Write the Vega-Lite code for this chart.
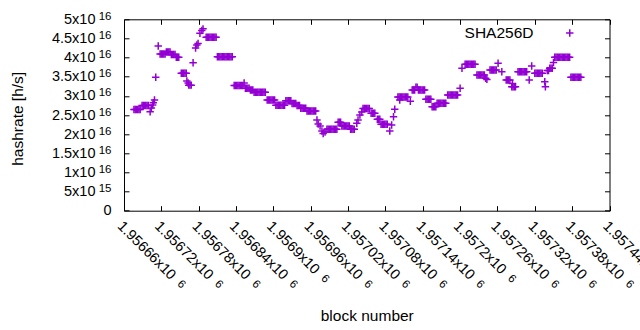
{
"$schema": "https://vega.github.io/schema/vega-lite/v6.json",
"width": 485.5, "height": 191.4,
"autosize": {"type": "none"},
"padding": {"left": 124, "top": 19.3, "right": 30.5, "bottom": 119.3},
"background": "white",
"config": {
 "view": {"stroke": "black", "strokeWidth": 1},
 "font": "Liberation Sans",
 "axis": {"grid": false, "domain": false, "tickColor": "black", "tickSize": -5, "tickWidth": 1, "labelColor": "black", "titleColor": "black", "labelFont": "Liberation Sans", "titleFont": "Liberation Sans", "labelFontSize": 14.5, "titleFontSize": 15.5, "titleFontWeight": "normal", "labelOverlap": false, "labelFlush": false, "labelBound": false}
},
"data": {"values": [
{"block":1956676,"hashrate":2.644e16},{"block":1956678,"hashrate":2.644e16},{"block":1956680,"hashrate":2.644e16},{"block":1956682,"hashrate":2.644e16},{"block":1956684,"hashrate":2.644e16},{"block":1956686,"hashrate":2.644e16},
{"block":1956689,"hashrate":2.748e16},{"block":1956691,"hashrate":2.748e16},{"block":1956693,"hashrate":2.748e16},{"block":1956695,"hashrate":2.748e16},{"block":1956697,"hashrate":2.748e16},{"block":1956699,"hashrate":2.748e16},
{"block":1956702,"hashrate":2.586e16},{"block":1956704,"hashrate":2.68e16},{"block":1956706,"hashrate":2.76e16},{"block":1956707,"hashrate":2.82e16},{"block":1956709,"hashrate":2.89e16},
{"block":1956711,"hashrate":3.485e16},{"block":1956715,"hashrate":4.303e16},
{"block":1956718,"hashrate":4.094e16},{"block":1956720,"hashrate":4.094e16},{"block":1956722,"hashrate":4.094e16},{"block":1956724,"hashrate":4.094e16},{"block":1956726,"hashrate":4.094e16},
{"block":1956728,"hashrate":4.146e16},{"block":1956730,"hashrate":4.146e16},{"block":1956732,"hashrate":4.146e16},{"block":1956734,"hashrate":4.146e16},
{"block":1956736,"hashrate":4.08e16},{"block":1956738,"hashrate":4.08e16},{"block":1956740,"hashrate":4.08e16},{"block":1956742,"hashrate":4.08e16},
{"block":1956744,"hashrate":4.007e16},{"block":1956746,"hashrate":4.007e16},{"block":1956748,"hashrate":4.007e16},
{"block":1956752,"hashrate":3.589e16},{"block":1956754,"hashrate":3.589e16},{"block":1956756,"hashrate":3.589e16},{"block":1956758,"hashrate":3.589e16},{"block":1956760,"hashrate":3.589e16},
{"block":1956761,"hashrate":3.388e16},{"block":1956763,"hashrate":3.336e16},
{"block":1956764,"hashrate":3.28e16},{"block":1956766,"hashrate":3.28e16},{"block":1956768,"hashrate":3.28e16},
{"block":1956771,"hashrate":3.866e16},{"block":1956775,"hashrate":4.25e16},{"block":1956777,"hashrate":4.329e16},{"block":1956779,"hashrate":4.368e16},
{"block":1956782,"hashrate":4.634e16},{"block":1956785,"hashrate":4.707e16},{"block":1956787,"hashrate":4.75e16},
{"block":1956792,"hashrate":4.53e16},{"block":1956794,"hashrate":4.53e16},{"block":1956796,"hashrate":4.53e16},{"block":1956798,"hashrate":4.53e16},{"block":1956800,"hashrate":4.53e16},{"block":1956802,"hashrate":4.53e16},{"block":1956804,"hashrate":4.53e16},{"block":1956806,"hashrate":4.53e16},{"block":1956808,"hashrate":4.53e16},
{"block":1956810,"hashrate":4.023e16},{"block":1956812,"hashrate":4.023e16},{"block":1956814,"hashrate":4.023e16},{"block":1956816,"hashrate":4.023e16},{"block":1956818,"hashrate":4.023e16},{"block":1956820,"hashrate":4.023e16},{"block":1956822,"hashrate":4.023e16},{"block":1956824,"hashrate":4.023e16},{"block":1956826,"hashrate":4.023e16},{"block":1956828,"hashrate":4.023e16},{"block":1956830,"hashrate":4.023e16},{"block":1956832,"hashrate":4.023e16},{"block":1956834,"hashrate":4.023e16},
{"block":1956837,"hashrate":3.27e16},{"block":1956839,"hashrate":3.27e16},{"block":1956841,"hashrate":3.27e16},{"block":1956843,"hashrate":3.27e16},{"block":1956845,"hashrate":3.27e16},{"block":1956847,"hashrate":3.27e16},{"block":1956849,"hashrate":3.27e16},{"block":1956851,"hashrate":3.27e16},
{"block":1956853,"hashrate":3.336e16},
{"block":1956855,"hashrate":3.198e16},{"block":1956857,"hashrate":3.198e16},{"block":1956859,"hashrate":3.198e16},{"block":1956861,"hashrate":3.198e16},
{"block":1956863,"hashrate":3.153e16},{"block":1956865,"hashrate":3.153e16},{"block":1956867,"hashrate":3.153e16},
{"block":1956869,"hashrate":3.093e16},{"block":1956871,"hashrate":3.093e16},{"block":1956873,"hashrate":3.093e16},{"block":1956875,"hashrate":3.093e16},{"block":1956877,"hashrate":3.093e16},{"block":1956879,"hashrate":3.093e16},{"block":1956881,"hashrate":3.093e16},{"block":1956883,"hashrate":3.093e16},{"block":1956885,"hashrate":3.093e16},{"block":1956887,"hashrate":3.093e16},
{"block":1956890,"hashrate":2.892e16},{"block":1956892,"hashrate":2.892e16},{"block":1956894,"hashrate":2.892e16},{"block":1956896,"hashrate":2.892e16},{"block":1956898,"hashrate":2.892e16},{"block":1956900,"hashrate":2.892e16},{"block":1956902,"hashrate":2.892e16},
{"block":1956904,"hashrate":2.753e16},{"block":1956906,"hashrate":2.753e16},{"block":1956908,"hashrate":2.753e16},{"block":1956910,"hashrate":2.753e16},{"block":1956912,"hashrate":2.753e16},{"block":1956914,"hashrate":2.753e16},{"block":1956916,"hashrate":2.753e16},{"block":1956918,"hashrate":2.753e16},
{"block":1956920,"hashrate":2.874e16},{"block":1956922,"hashrate":2.874e16},{"block":1956924,"hashrate":2.874e16},{"block":1956926,"hashrate":2.874e16},{"block":1956928,"hashrate":2.874e16},
{"block":1956930,"hashrate":2.8e16},{"block":1956932,"hashrate":2.8e16},{"block":1956934,"hashrate":2.8e16},{"block":1956936,"hashrate":2.8e16},
{"block":1956938,"hashrate":2.748e16},{"block":1956940,"hashrate":2.748e16},{"block":1956942,"hashrate":2.748e16},
{"block":1956944,"hashrate":2.675e16},{"block":1956946,"hashrate":2.675e16},{"block":1956948,"hashrate":2.675e16},{"block":1956950,"hashrate":2.675e16},{"block":1956952,"hashrate":2.675e16},
{"block":1956954,"hashrate":2.604e16},{"block":1956956,"hashrate":2.604e16},{"block":1956958,"hashrate":2.604e16},{"block":1956960,"hashrate":2.604e16},{"block":1956962,"hashrate":2.604e16},{"block":1956964,"hashrate":2.604e16},{"block":1956966,"hashrate":2.604e16},{"block":1956968,"hashrate":2.604e16},
{"block":1956970,"hashrate":2.369e16},{"block":1956972,"hashrate":2.262e16},{"block":1956975,"hashrate":2.21e16},{"block":1956978,"hashrate":2.082e16},{"block":1956980,"hashrate":2.017e16},{"block":1956983,"hashrate":2.056e16},
{"block":1956986,"hashrate":2.126e16},{"block":1956988,"hashrate":2.126e16},{"block":1956990,"hashrate":2.126e16},{"block":1956992,"hashrate":2.126e16},{"block":1956994,"hashrate":2.126e16},{"block":1956996,"hashrate":2.126e16},{"block":1956998,"hashrate":2.126e16},{"block":1957000,"hashrate":2.126e16},{"block":1957002,"hashrate":2.126e16},
{"block":1957004,"hashrate":2.309e16},{"block":1957006,"hashrate":2.309e16},{"block":1957008,"hashrate":2.309e16},
{"block":1957010,"hashrate":2.213e16},{"block":1957012,"hashrate":2.213e16},{"block":1957014,"hashrate":2.213e16},{"block":1957016,"hashrate":2.213e16},{"block":1957018,"hashrate":2.213e16},{"block":1957020,"hashrate":2.213e16},{"block":1957022,"hashrate":2.213e16},
{"block":1957024,"hashrate":2.126e16},{"block":1957026,"hashrate":2.126e16},{"block":1957028,"hashrate":2.126e16},{"block":1957030,"hashrate":2.126e16},
{"block":1957034,"hashrate":2.285e16},{"block":1957036,"hashrate":2.369e16},{"block":1957039,"hashrate":2.5e16},{"block":1957042,"hashrate":2.578e16},
{"block":1957044,"hashrate":2.67e16},{"block":1957046,"hashrate":2.67e16},{"block":1957048,"hashrate":2.67e16},{"block":1957050,"hashrate":2.67e16},{"block":1957052,"hashrate":2.67e16},{"block":1957054,"hashrate":2.67e16},
{"block":1957057,"hashrate":2.544e16},{"block":1957059,"hashrate":2.544e16},{"block":1957061,"hashrate":2.544e16},{"block":1957063,"hashrate":2.544e16},
{"block":1957067,"hashrate":2.388e16},{"block":1957069,"hashrate":2.388e16},{"block":1957071,"hashrate":2.388e16},
{"block":1957073,"hashrate":2.257e16},{"block":1957075,"hashrate":2.257e16},{"block":1957077,"hashrate":2.257e16},{"block":1957079,"hashrate":2.257e16},{"block":1957081,"hashrate":2.257e16},{"block":1957083,"hashrate":2.257e16},
{"block":1957087,"hashrate":2.082e16},{"block":1957090,"hashrate":2.239e16},{"block":1957093,"hashrate":2.456e16},{"block":1957095,"hashrate":2.649e16},
{"block":1957100,"hashrate":2.97e16},{"block":1957102,"hashrate":2.97e16},{"block":1957103,"hashrate":2.89e16},{"block":1957104,"hashrate":2.97e16},{"block":1957106,"hashrate":2.97e16},{"block":1957108,"hashrate":2.97e16},{"block":1957110,"hashrate":2.97e16},{"block":1957112,"hashrate":2.97e16},{"block":1957114,"hashrate":2.97e16},{"block":1957116,"hashrate":2.97e16},
{"block":1957120,"hashrate":2.86e16},
{"block":1957123,"hashrate":3.153e16},{"block":1957125,"hashrate":3.153e16},{"block":1957127,"hashrate":3.153e16},{"block":1957129,"hashrate":3.224e16},{"block":1957131,"hashrate":3.224e16},{"block":1957133,"hashrate":3.153e16},{"block":1957135,"hashrate":3.153e16},{"block":1957137,"hashrate":3.153e16},{"block":1957139,"hashrate":3.153e16},{"block":1957141,"hashrate":3.153e16},{"block":1957143,"hashrate":3.153e16},
{"block":1957145,"hashrate":2.91e16},{"block":1957147,"hashrate":2.91e16},{"block":1957149,"hashrate":2.91e16},{"block":1957151,"hashrate":2.91e16},{"block":1957153,"hashrate":2.91e16},
{"block":1957155,"hashrate":2.717e16},{"block":1957157,"hashrate":2.717e16},{"block":1957159,"hashrate":2.717e16},{"block":1957161,"hashrate":2.717e16},
{"block":1957163,"hashrate":2.806e16},{"block":1957165,"hashrate":2.806e16},{"block":1957167,"hashrate":2.806e16},{"block":1957169,"hashrate":2.806e16},{"block":1957171,"hashrate":2.806e16},{"block":1957173,"hashrate":2.806e16},{"block":1957175,"hashrate":2.806e16},{"block":1957177,"hashrate":2.806e16},
{"block":1957180,"hashrate":3.022e16},{"block":1957182,"hashrate":3.022e16},{"block":1957184,"hashrate":3.022e16},{"block":1957186,"hashrate":3.022e16},{"block":1957188,"hashrate":3.022e16},{"block":1957190,"hashrate":3.022e16},{"block":1957192,"hashrate":3.022e16},{"block":1957194,"hashrate":3.022e16},{"block":1957196,"hashrate":3.022e16},
{"block":1957200,"hashrate":3.198e16},{"block":1957203,"hashrate":3.72e16},
{"block":1957208,"hashrate":3.825e16},{"block":1957210,"hashrate":3.825e16},{"block":1957212,"hashrate":3.825e16},{"block":1957214,"hashrate":3.825e16},{"block":1957216,"hashrate":3.825e16},{"block":1957218,"hashrate":3.825e16},{"block":1957220,"hashrate":3.825e16},{"block":1957222,"hashrate":3.825e16},{"block":1957224,"hashrate":3.825e16},
{"block":1957227,"hashrate":3.545e16},{"block":1957229,"hashrate":3.545e16},{"block":1957231,"hashrate":3.545e16},{"block":1957233,"hashrate":3.545e16},{"block":1957235,"hashrate":3.545e16},{"block":1957237,"hashrate":3.545e16},{"block":1957239,"hashrate":3.545e16},
{"block":1957241,"hashrate":3.459e16},{"block":1957243,"hashrate":3.43e16},
{"block":1957248,"hashrate":3.676e16},{"block":1957250,"hashrate":3.676e16},{"block":1957252,"hashrate":3.676e16},{"block":1957254,"hashrate":3.676e16},{"block":1957256,"hashrate":3.676e16},{"block":1957258,"hashrate":3.676e16},
{"block":1957261,"hashrate":3.85e16},{"block":1957267,"hashrate":3.631e16},
{"block":1957274,"hashrate":3.414e16},{"block":1957276,"hashrate":3.414e16},{"block":1957278,"hashrate":3.414e16},{"block":1957280,"hashrate":3.414e16},
{"block":1957283,"hashrate":3.239e16},{"block":1957284,"hashrate":3.32e16},{"block":1957285,"hashrate":3.239e16},{"block":1957287,"hashrate":3.239e16},{"block":1957289,"hashrate":3.239e16},
{"block":1957293,"hashrate":3.631e16},{"block":1957295,"hashrate":3.631e16},{"block":1957297,"hashrate":3.631e16},{"block":1957299,"hashrate":3.631e16},{"block":1957301,"hashrate":3.631e16},{"block":1957303,"hashrate":3.631e16},{"block":1957305,"hashrate":3.631e16},{"block":1957307,"hashrate":3.631e16},
{"block":1957311,"hashrate":3.414e16},{"block":1957315,"hashrate":3.78e16},
{"block":1957320,"hashrate":3.589e16},{"block":1957322,"hashrate":3.589e16},{"block":1957324,"hashrate":3.589e16},{"block":1957326,"hashrate":3.589e16},{"block":1957328,"hashrate":3.589e16},{"block":1957330,"hashrate":3.589e16},{"block":1957332,"hashrate":3.589e16},
{"block":1957336,"hashrate":3.37e16},{"block":1957337,"hashrate":3.24e16},
{"block":1957340,"hashrate":3.66e16},{"block":1957342,"hashrate":3.66e16},
{"block":1957344,"hashrate":3.72e16},{"block":1957346,"hashrate":3.72e16},{"block":1957348,"hashrate":3.72e16},
{"block":1957350,"hashrate":3.87e16},
{"block":1957352,"hashrate":4.007e16},{"block":1957354,"hashrate":4.007e16},{"block":1957356,"hashrate":4.007e16},{"block":1957358,"hashrate":4.007e16},{"block":1957360,"hashrate":4.007e16},{"block":1957362,"hashrate":4.007e16},{"block":1957364,"hashrate":4.007e16},{"block":1957366,"hashrate":4.007e16},{"block":1957368,"hashrate":4.007e16},{"block":1957370,"hashrate":4.007e16},{"block":1957372,"hashrate":4.007e16},{"block":1957374,"hashrate":4.007e16},{"block":1957376,"hashrate":4.007e16},
{"block":1957378,"hashrate":3.485e16},{"block":1957380,"hashrate":3.485e16},{"block":1957382,"hashrate":3.485e16},{"block":1957384,"hashrate":3.485e16},{"block":1957386,"hashrate":3.485e16},{"block":1957388,"hashrate":3.485e16},{"block":1957390,"hashrate":3.485e16},{"block":1957392,"hashrate":3.485e16},{"block":1957394,"hashrate":3.485e16}
]},
"layer": [
 {
  "mark": {"type": "point", "shape": "M-1,0H1M0,-1V1", "filled": false, "size": 55, "strokeWidth": 1.5, "opacity": 1},
  "encoding": {
   "x": {"field": "block", "type": "quantitative",
    "scale": {"domain": [1956660, 1957440], "nice": false, "zero": false},
    "axis": {"orient": "bottom", "title": "block number", "values": [1956660,1956720,1956780,1956840,1956900,1956960,1957020,1957080,1957140,1957200,1957260,1957320,1957380,1957440],
     "labelExpr": "format(datum.value/1e6, '.6~g') + 'x10'", "labelAngle": 45, "labelAlign": "left", "labelBaseline": "top", "labelPadding": 13,
     "titleY": 105, "titleBaseline": "middle"}},
   "y": {"field": "hashrate", "type": "quantitative",
    "scale": {"domain": [0, 5e16], "nice": false},
    "axis": {"orient": "left", "title": "hashrate [h/s]", "values": [0,5e15,1e16,1.5e16,2e16,2.5e16,3e16,3.5e16,4e16,4.5e16,5e16],
     "labelExpr": "datum.value == 0 ? '' : (datum.value < 1e16 ? format(datum.value/1e15, '~g') : format(datum.value/1e16, '~g')) + 'x10'",
     "labelPadding": 34, "labelBaseline": "middle", "titleX": -99, "titleY": 99}},
   "color": {"datum": "SHA256D", "type": "nominal", "scale": {"range": ["#9400d3"]},
    "legend": {"orient": "none", "legendX": 438, "legendY": 6, "title": null, "padding": 0, "labelAlign": "right", "labelOffset": -44, "labelFontSize": 15.5, "labelFont": "Liberation Sans", "labelColor": "black", "labelBaseline": "middle", "symbolType": "M-1,0H1M0,-1V1", "symbolSize": 55, "symbolStrokeWidth": 1.5, "symbolStrokeColor": "#9400d3", "symbolFillColor": "transparent"}}
  }
 },
 {
  "mark": {"type": "point", "opacity": 0},
  "encoding": {
   "x": {"field": "block", "type": "quantitative", "scale": {"domain": [1956660, 1957440], "nice": false, "zero": false},
    "axis": {"orient": "top", "title": null, "labels": false, "values": [1956660,1956720,1956780,1956840,1956900,1956960,1957020,1957080,1957140,1957200,1957260,1957320,1957380,1957440]}},
   "y": {"field": "hashrate", "type": "quantitative", "scale": {"domain": [0, 5e16], "nice": false},
    "axis": {"orient": "right", "title": null, "labels": false, "values": [0,5e15,1e16,1.5e16,2e16,2.5e16,3e16,3.5e16,4e16,4.5e16,5e16]}}
  }
 },
 {
  "mark": {"type": "point", "opacity": 0},
  "encoding": {
   "x": {"field": "block", "type": "quantitative", "scale": {"domain": [1956660, 1957440], "nice": false, "zero": false}, "axis": null},
   "y": {"field": "hashrate", "type": "quantitative", "scale": {"domain": [0, 5e16], "nice": false},
    "axis": {"orient": "left", "title": null, "ticks": false, "labelPadding": 13,
     "values": [0,5e15,1e16,1.5e16,2e16,2.5e16,3e16,3.5e16,4e16,4.5e16,5e16],
     "labelExpr": "datum.value == 0 ? '0' : (datum.value < 1e16 ? '15' : '16')",
     "labelFontSize": {"condition": {"test": "datum.value == 0", "value": 14.5}, "value": 11.5},
     "labelBaseline": {"condition": {"test": "datum.value == 0", "value": "middle"}, "value": "alphabetic"}}}
  }
 },
 {
  "mark": {"type": "point", "opacity": 0},
  "encoding": {
   "x": {"field": "block", "type": "quantitative", "scale": {"domain": [1956660, 1957440], "nice": false, "zero": false},
    "axis": {"orient": "bottom", "title": null, "ticks": false, "values": [1956660,1956720,1956780,1956840,1956960,1957020,1957080,1957140,1957260,1957320,1957380,1957440],
     "labelExpr": "'6'", "labelFontSize": 11.5, "labelAngle": 45, "labelAlign": "left", "labelBaseline": "top", "labelOffset": 58.7, "labelPadding": 67}},
   "y": {"field": "hashrate", "type": "quantitative", "scale": {"domain": [0, 5e16], "nice": false}, "axis": null}
  }
 },
 {
  "mark": {"type": "point", "opacity": 0},
  "encoding": {
   "x": {"field": "block", "type": "quantitative", "scale": {"domain": [1956660, 1957440], "nice": false, "zero": false},
    "axis": {"orient": "bottom", "title": null, "ticks": false, "values": [1956900,1957200],
     "labelExpr": "'6'", "labelFontSize": 11.5, "labelAngle": 45, "labelAlign": "left", "labelBaseline": "top", "labelOffset": 53, "labelPadding": 61.4}},
   "y": {"field": "hashrate", "type": "quantitative", "scale": {"domain": [0, 5e16], "nice": false}, "axis": null}
  }
 }
],
"resolve": {"axis": {"x": "independent", "y": "independent"}}
}
